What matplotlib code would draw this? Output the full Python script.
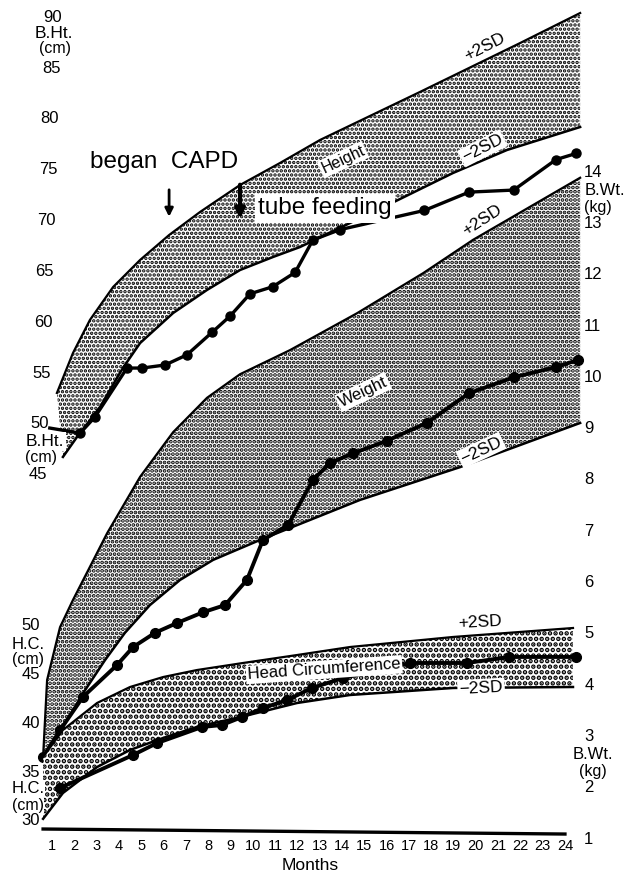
import numpy as np
import matplotlib.pyplot as plt

plt.rcParams['font.family'] = ['Liberation Sans', 'DejaVu Sans']
plt.rcParams['hatch.color'] = 'black'

# height reference band (cm)
ht_up_months = [1.22, 1.94, 2.70, 3.74, 4.95, 6.25, 7.64, 9.43, 11.22, 13.02, 17.5, 21.99, 24.68]
ht_plus2sd = [53.05, 56.98, 60.23, 63.47, 66.13, 68.58, 70.85, 73.5, 75.66, 77.93, 82.65, 87.46, 90.41]
ht_lo_months = [1.49, 2.12, 3.15, 4.18, 4.95, 6.43, 7.95, 9.43, 10.91, 12.12, 16.52, 18.98, 21.4, 24.68]
ht_minus2sd = [46.76, 48.72, 51.67, 55.51, 57.96, 60.91, 63.18, 65.14, 66.42, 67.4, 72.03, 74.68, 76.94, 79.2]

# patient height (cm)
pt_ht_months = [0.9, 2.26, 2.93, 4.36, 5.04, 6.07, 7.05, 8.17, 8.98, 9.88, 10.9,
                11.9, 12.7, 13.9, 17.7, 19.7, 21.7, 23.6, 24.5]
pt_ht = [49.6, 49.1, 50.7, 55.5, 55.5, 55.8, 56.8, 59.0, 60.6, 62.8, 63.5,
         64.9, 68.1, 69.1, 71.0, 72.8, 73.0, 76.0, 76.6]

# weight reference band (kg)
wt_up_months = [0.6, 0.78, 1.36, 1.94, 3.47, 4.95, 6.43, 7.95, 9.43, 11.67, 14.68, 17.64, 19.88, 24.68]
wt_plus2sd = [2.6, 4.1, 5.13, 5.66, 6.96, 8.06, 8.93, 9.6, 10.06, 10.53, 11.25, 12.03, 12.68, 13.89]
wt_lo_months = [0.6, 1.67, 2.48, 3.38, 4.27, 5.39, 6.74, 8.22, 10.33, 14.81, 19.3, 24.68]
wt_minus2sd = [2.6, 3.32, 3.9, 4.49, 5.02, 5.56, 6.05, 6.44, 6.83, 7.61, 8.25, 9.11]

# patient weight (kg)
pt_wt_months = [0.6, 1.36, 2.39, 3.91, 4.63, 5.62, 6.6, 7.77, 8.76, 9.74, 10.46,
                11.58, 12.7, 13.47, 14.5, 16.0, 17.8, 19.7, 21.7, 23.6, 24.6]
pt_wt = [2.6, 3.12, 3.77, 4.39, 4.74, 5.02, 5.21, 5.42, 5.56, 6.05, 6.83,
         7.12, 8.0, 8.33, 8.52, 8.76, 9.11, 9.69, 10.0, 10.2, 10.34]

# head circumference reference band (cm)
hc_months = [0.6, 1.49, 3.02, 4.5, 5.98, 7.5, 9.56, 11.99, 14.36, 18.98, 24.36]
hc_plus2sd = [36.54, 39.31, 42.08, 43.72, 44.74, 45.46, 46.18, 47.0, 47.82, 48.85, 49.77]
hc_minus2sd = [30.2, 32.85, 35.51, 37.26, 38.49, 39.62, 40.7, 42.08, 42.9, 43.62, 43.72]

# patient head circumference (cm)
pt_hc_months = [1.36, 4.63, 5.71, 7.73, 8.62, 9.52, 10.46, 11.54, 12.66, 14.05,
                17.05, 19.6, 21.5, 24.5]
pt_hc = [33.36, 36.74, 37.97, 39.62, 39.82, 40.64, 41.56, 42.38, 43.62, 44.64,
         46.18, 46.18, 46.8, 46.8]

months = list(range(1, 25))
ht_ticks = [45, 50, 55, 60, 65, 70, 75, 80, 85, 90]
hc_ticks = [30, 35, 40, 45, 50]
wt_ticks = list(range(1, 15))


def px_month(px):
    # horizontal pixel -> month on the chart's x scale
    return 1 + (px - 52) / 22.3


fig = plt.figure(figsize=(6.37, 8.74), dpi=100)
ax = fig.add_axes([0, 0, 1, 1])          # weight scale
ax.set_xlim(-1.332, 27.23)
ax.set_ylim(0.318, 17.355)
axh = ax.twinx()                         # height scale
axh.set_ylim(5.75, 91.69)
axc = ax.twinx()                         # head circumference scale
axc.set_ylim(24.54, 114.18)
for a in (ax, axh, axc):
    a.set_position([0, 0, 1, 1])
    a.axis('off')

sd = dict(boxstyle='square,pad=0.1', fc='white', ec='none')


def band(a, mu, up, ml, lo, hatch, hlw):
    plt.rcParams['hatch.linewidth'] = hlw
    a.fill(np.concatenate([mu, ml[::-1]]), np.concatenate([up, lo[::-1]]),
           facecolor='white', edgecolor='black', hatch=hatch, linewidth=0)
    a.plot(mu, up, 'k-', lw=1.6)
    a.plot(ml, lo, 'k-', lw=1.8)


# --- height ---
band(axh, ht_up_months, ht_plus2sd, ht_lo_months, ht_minus2sd, '....', 1.7)
axh.plot(pt_ht_months, pt_ht, 'k-', lw=2.4, zorder=4)
axh.plot(pt_ht_months[1:], pt_ht[1:], 'ko', ms=6.5, zorder=4)
axh.text(20.4, 87.1, '+2SD', fontsize=12.5, rotation=27, ha='center', va='center', bbox=sd)
axh.text(20.3, 77.1, '\u22122SD', fontsize=12.5, rotation=27, ha='center', va='center', bbox=sd, zorder=5)
axh.text(14.05, 76.0, 'Height', fontsize=11.5, rotation=25, ha='center', va='center', bbox=sd, zorder=5)
axh.text(6.02, 75.8, 'began  CAPD', fontsize=17.5, ha='center', va='center')
axh.text(13.24, 71.2, 'tube feeding', fontsize=17.5, ha='center', va='center',
         bbox=dict(boxstyle='square,pad=0.15', fc='white', ec='none'), zorder=6)
axh.annotate('', xy=(6.25, 70.1), xytext=(6.25, 73.3),
             arrowprops=dict(arrowstyle='-|>', lw=2, color='black', mutation_scale=12))
axh.annotate('', xy=(9.43, 69.9), xytext=(9.43, 73.8),
             arrowprops=dict(arrowstyle='-|>', lw=3, color='black', mutation_scale=14))

for t in ht_ticks:
    axh.text(px_month(38 + (t - 45) * 0.33), t, str(t), fontsize=12, ha='center', va='center')
for lab, y, px, fs in [('B.Ht.', 88.4, 54, 12.5), ('(cm)', 86.9, 55, 11.5),
                       ('B.Ht.', 48.3, 45, 12.5), ('(cm)', 46.7, 41, 11.5)]:
    axh.text(px_month(px), y, lab, fontsize=fs, ha='center', va='center', bbox=sd, zorder=5)

# --- weight ---
band(ax, wt_up_months, wt_plus2sd, wt_lo_months, wt_minus2sd, '....', 1.9)
ax.plot(pt_wt_months, pt_wt, 'ko-', lw=2.8, ms=7, zorder=4)
ax.text(20.28, 13.07, '+2SD', fontsize=12.5, rotation=33, ha='center', va='center', bbox=sd)
ax.text(20.24, 8.58, '\u22122SD', fontsize=12.5, rotation=25, ha='center', va='center', bbox=sd)
ax.text(14.95, 9.71, 'Weight', fontsize=12, rotation=25, ha='center', va='center', bbox=sd, zorder=5)

ax.plot([0.6, 24.0], [1.195, 1.097], 'k-', lw=2.4)
for m in months:
    ax.text(m, 0.864, str(m), fontsize=10.5, ha='center', va='center')
ax.text(12.57, 0.49, 'Months', fontsize=12.5, ha='center', va='center')

for t in wt_ticks:
    ax.text(24.86, t, str(t), fontsize=12, ha='left', va='center')
for lab, y, fs in [('B.Wt.', 13.64, 12), ('(kg)', 13.31, 11.5)]:
    ax.text(24.86, y, lab, fontsize=fs, ha='left', va='center')
for lab, y, fs in [('B.Wt.', 2.64, 12), ('(kg)', 2.31, 11.5)]:
    ax.text(25.25, y, lab, fontsize=fs, ha='center', va='center')

# --- head circumference ---
band(axc, hc_months, hc_plus2sd, hc_months, hc_minus2sd, '...', 2.3)
axc.plot(pt_hc_months, pt_hc, 'ko-', lw=2.8, ms=7, zorder=4)
axc.text(20.2, 50.4, '+2SD', fontsize=12.5, rotation=3, ha='center', va='center', bbox=sd)
axc.text(20.24, 43.6, '\u22122SD', fontsize=12.5, rotation=3, ha='center', va='center', bbox=sd, zorder=5)
axc.text(13.2, 45.5, 'Head Circumference', fontsize=12, rotation=4, ha='center', va='center',
         bbox=sd, zorder=6)

for t in hc_ticks:
    axc.text(px_month(31), t, str(t), fontsize=12, ha='center', va='center')
for lab, y, fs in [('H.C.', 48.1, 12), ('(cm)', 46.55, 11.5), ('H.C.', 33.3, 12), ('(cm)', 31.55, 11.5)]:
    axc.text(px_month(28), y, lab, fontsize=fs, ha='center', va='center',
             bbox=dict(boxstyle='square,pad=0.02', fc='white', ec='none'), zorder=5)

fig.savefig('out.png', dpi=100)
